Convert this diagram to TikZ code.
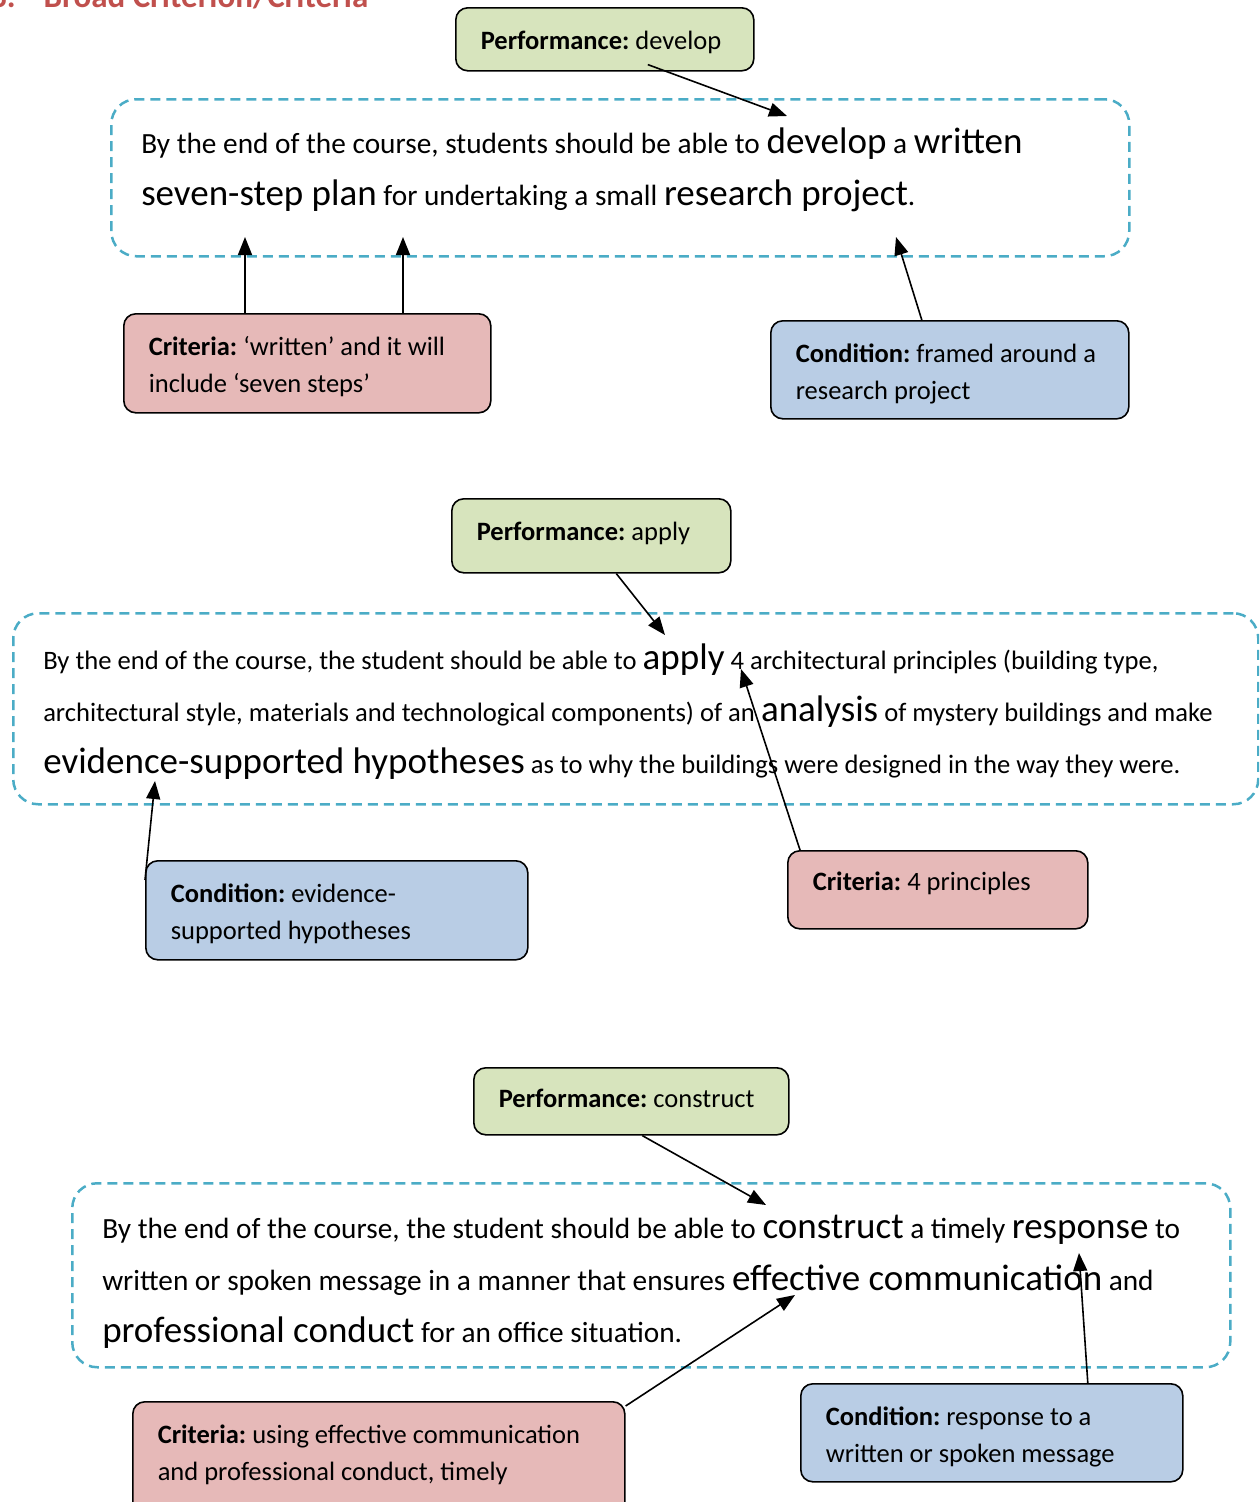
\documentclass[tikz,border=0pt]{standalone}
\usepackage{fontspec}
\setmainfont{Carlito}
\usetikzlibrary{arrows.meta,positioning}
\definecolor{perfgreen}{HTML}{D7E4BD}
\definecolor{critpink}{HTML}{E6B9B8}
\definecolor{condblue}{HTML}{B9CDE5}
\definecolor{dashblue}{HTML}{4BACC6}
\definecolor{headred}{HTML}{C0504D}
\newcommand{\kw}[1]{{\fontsize{37}{52}\selectfont #1}}
\newcommand{\sline}[1]{\mbox{#1}}

\begin{document}
\begin{tikzpicture}[x=1pt,y=-1pt,
    every node/.style={execute at begin node={\spaceskip=0pt\xspaceskip=0pt\frenchspacing}},
    box/.style={draw,line width=1.6pt,rounded corners=12pt,align=left,anchor=north west,
      inner xsep=25pt,inner ysep=0pt,text height=42pt,font=\fontsize{26.5}{37}\selectfont},
    perf/.style={box,fill=perfgreen},
    crit/.style={box,fill=critpink},
    cond/.style={box,fill=condblue},
    goal/.style={draw=dashblue,line width=2.5pt,dash pattern=on 10pt off 6pt,rounded corners=25pt,
      align=left,anchor=north west,inner xsep=30pt,inner ysep=0pt,font=\fontsize{29.3}{52}\selectfont},
    arr/.style={-{Triangle[length=18pt,width=14pt]},line width=1.6pt}]
  \useasboundingbox (0,0) rectangle (1259,1502);
  \clip (0,0) rectangle (1259,1502);

  % heading, cut at the top of the page
  \node[font=\bfseries\fontsize{33}{40}\selectfont,text=headred,anchor=base west,inner sep=0pt]
    (heading) at (-10,7) {3.\hspace{28pt}Broad Criterion/Criteria};

  % develop
  \node[perf,text width=248pt,text depth=21pt] (perf1) at (455,7) {\textbf{Performance:} develop};
  \node[goal,text width=958pt,text height=54pt,text depth=103pt] (goal1) at (110,98)
    {\sline{By the end of the course, students should be able to \kw{develop} a \kw{written}}\\
     \sline{\kw{seven-step plan} for undertaking a small \kw{research project}.}};
  \node[crit,text width=317pt,text depth=57pt] (crit1) at (123,313)
    {\textbf{Criteria:} `written' and it will\\include `seven steps'};
  \node[cond,text width=308pt,text depth=56pt] (cond1) at (770,320)
    {\textbf{Condition:} framed around a\\research project};
  \coordinate (develop) at (787,116);
  \coordinate (written) at (245,237);
  \coordinate (steps) at (403,237);
  \coordinate (project) at (896,237);
  \draw[arr] ([xshift=43pt,yshift=7pt]perf1.south) -- (develop);
  \draw[arr] (crit1.north -| written) -- (written);
  \draw[arr] (crit1.north -| steps) -- (steps);
  \draw[arr] ([xshift=-28pt]cond1.north) -- (project);

  % apply
  \node[perf,text width=229pt,text depth=32pt] (perf2) at (451,498) {\textbf{Performance:} apply};
  \node[goal,text width=1185pt,text height=56pt,text depth=135pt,font=\fontsize{26.6}{52}\selectfont]
    (goal2) at (12,612)
    {\sline{By the end of the course, the student should be able to \kw{apply} 4 architectural principles (building type,}\\
     \sline{architectural style, materials and technological components) of an \kw{analysis} of mystery buildings and make}\\
     \sline{\kw{evidence-supported hypotheses} as to why the buildings were designed in the way they were.}};
  \node[cond,text width=332pt,text depth=57pt] (cond2) at (145,860)
    {\textbf{Condition:} evidence-\\supported hypotheses};
  \node[crit,text width=250pt,text height=40pt,text depth=38pt] (crit2) at (787,850)
    {\textbf{Criteria:} 4 principles};
  \coordinate (apply) at (665,635);
  \coordinate (four) at (741,669);
  \coordinate (hypotheses) at (155,781);
  \draw[arr] ([xshift=25pt]perf2.south) -- (apply);
  \draw[arr] ([xshift=13pt]crit2.north west) -- (four);
  \draw[arr] ([yshift=-20pt]cond2.north west) -- (hypotheses);

  % construct
  \node[perf,text width=265pt,text height=40pt,text depth=27pt] (perf3) at (473,1067)
    {\textbf{Performance:} construct};
  \node[goal,text width=1098pt,text height=55pt,text depth=129pt] (goal3) at (71,1182)
    {\sline{By the end of the course, the student should be able to \kw{construct} a timely \kw{response} to}\\
     \sline{written or spoken message in a manner that ensures \kw{effective communication} and}\\
     \sline{\kw{professional conduct} for an office situation.}};
  \node[crit,text width=442pt,text depth=80pt] (crit3) at (132,1401)
    {\textbf{Criteria:} using effective communication\\and professional conduct, timely};
  \node[cond,text width=332pt,text depth=56pt] (cond3) at (800,1383)
    {\textbf{Condition:} response to a\\written or spoken message};
  \coordinate (construct) at (766,1205);
  \coordinate (effective) at (795,1295);
  \coordinate (response) at (1079,1253);
  \draw[arr] ([xshift=11pt]perf3.south) -- (construct);
  \draw[arr] ([yshift=-5pt]crit3.north east) -- (effective);
  \draw[arr] ([xshift=96pt]cond3.north) -- (response);
\end{tikzpicture}
\end{document}
